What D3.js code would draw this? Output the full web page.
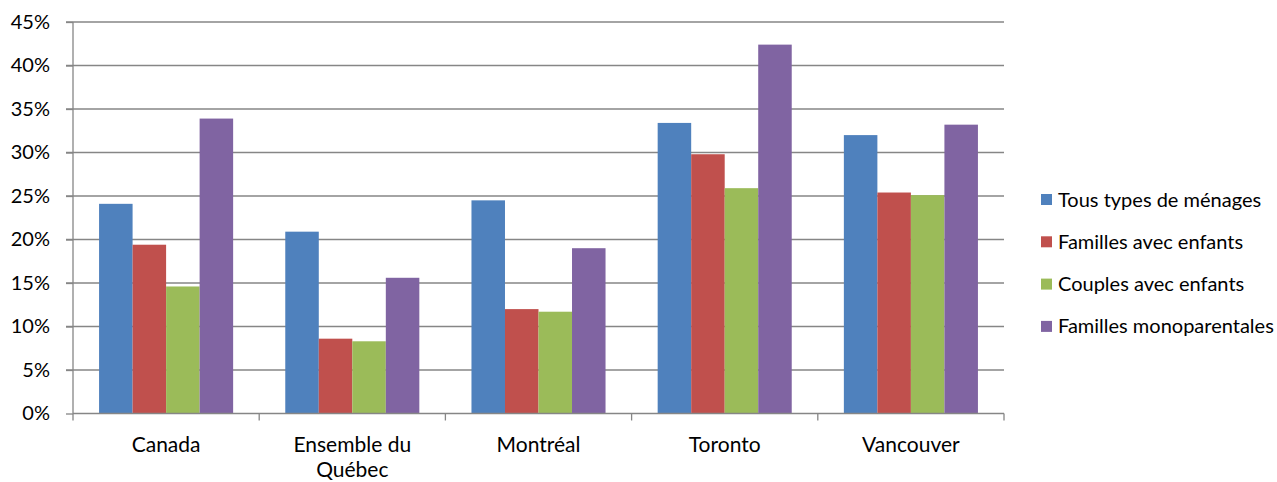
<!DOCTYPE html>
<html>
<head>
<meta charset="utf-8">
<script src="https://cdn.jsdelivr.net/npm/d3@7"></script>
<style>
  body { margin: 0; background: #fff; }
  text { font-family: Lato, "Open Sans", sans-serif; fill: #000; }
</style>
</head>
<body>
<div id="chart"></div>
<script>
// Data
var categories = ["Canada", "Ensemble du Québec", "Montréal", "Toronto", "Vancouver"];
var seriesNames = ["Tous types de ménages", "Familles avec enfants", "Couples avec enfants", "Familles monoparentales"];
var tousTypes = [24.1, 20.9, 24.5, 33.4, 32.0];
var famillesEnfants = [19.4, 8.6, 12.0, 29.8, 25.4];
var couplesEnfants = [14.6, 8.3, 11.7, 25.9, 25.1];
var monoparentales = [33.9, 15.6, 19.0, 42.4, 33.2];
var yTicks = [0, 5, 10, 15, 20, 25, 30, 35, 40, 45];
var colors = ["#4F81BD", "#C0504D", "#9BBB59", "#8064A2"];

var allSeries = [tousTypes, famillesEnfants, couplesEnfants, monoparentales];

var fontSize = "20px";
var svgWidth = 1277, svgHeight = 482;
var margin = { top: 22, right: 273, bottom: 68.5, left: 73 };
var chartWidth = svgWidth - margin.left - margin.right;
var chartHeight = svgHeight - margin.top - margin.bottom;

var svg = d3.select("#chart").append("svg")
  .attr("width", svgWidth)
  .attr("height", svgHeight);

var chartGroup = svg.append("g")
  .attr("transform", `translate(${margin.left}, ${margin.top})`);

// scales
var x0 = d3.scaleBand()
  .domain(categories)
  .range([0, chartWidth])
  .paddingInner(0.28)
  .paddingOuter(0.14);

var x1 = d3.scaleBand()
  .domain(d3.range(seriesNames.length))
  .range([0, x0.bandwidth()]);

var y = d3.scaleLinear()
  .domain([0, 45])
  .range([chartHeight, 0]);

// gridlines
chartGroup.append("g")
  .selectAll("line")
  .data(yTicks.slice(1))
  .enter()
  .append("line")
  .attr("x1", -7)
  .attr("x2", chartWidth)
  .attr("y1", d => y(d))
  .attr("y2", d => y(d))
  .attr("stroke", "#868686")
  .attr("stroke-width", 1.3);

// y axis
var leftAxis = d3.axisLeft(y)
  .tickValues(yTicks)
  .tickFormat(d => d + "%")
  .tickSize(7)
  .tickPadding(16);

var yAxisG = chartGroup.append("g").call(leftAxis);
yAxisG.select(".domain").attr("stroke", "#868686").attr("stroke-width", 1.3).attr("d", `M0,${chartHeight}V0`);
yAxisG.selectAll(".tick line").attr("stroke", "#868686").attr("stroke-width", 1.3);
yAxisG.selectAll(".tick text")
  .style("font-size", fontSize)
  .style("font-family", "Lato, 'Open Sans', sans-serif")
  .attr("fill", "#000");

// bars
var groups = chartGroup.append("g")
  .selectAll("g")
  .data(categories)
  .enter()
  .append("g")
  .attr("transform", d => `translate(${x0(d)}, 0)`);

groups.selectAll("rect")
  .data((d, i) => allSeries.map((s, j) => ({ series: j, value: s[i] })))
  .enter()
  .append("rect")
  .attr("x", d => x1(d.series))
  .attr("width", x1.bandwidth())
  .attr("y", d => y(d.value))
  .attr("height", d => chartHeight - y(d.value))
  .attr("fill", d => colors[d.series]);

// x axis: tick marks between categories
var xAxisG = chartGroup.append("g")
  .attr("transform", `translate(0, ${chartHeight})`);

xAxisG.append("line")
  .attr("x1", 0)
  .attr("x2", chartWidth)
  .attr("stroke", "#868686")
  .attr("stroke-width", 1.3);

xAxisG.selectAll(".sep")
  .data(d3.range(categories.length + 1))
  .enter()
  .append("line")
  .attr("class", "sep")
  .attr("x1", i => i * x0.step())
  .attr("x2", i => i * x0.step())
  .attr("y1", 0)
  .attr("y2", 7)
  .attr("stroke", "#868686")
  .attr("stroke-width", 1.3);

var catLabels = xAxisG.selectAll(".cat")
  .data(categories)
  .enter()
  .append("text")
  .attr("class", "cat")
  .attr("text-anchor", "middle")
  .attr("x", d => x0(d) + x0.bandwidth() / 2)
  .attr("y", 38)
  .style("font-size", "21px");

// wrap long labels like Excel does
catLabels.each(function(d) {
  var words = d.split(" ");
  var lines = [];
  var line = "";
  words.forEach(function(w) {
    var test = line ? line + " " + w : w;
    if (test.length > 12 && line) {
      lines.push(line);
      line = w;
    } else {
      line = test;
    }
  });
  lines.push(line);
  var el = d3.select(this);
  lines.forEach(function(l, k) {
    el.append("tspan")
      .attr("x", x0(d) + x0.bandwidth() / 2)
      .attr("dy", k === 0 ? 0 : 25)
      .text(l);
  });
});

// legend
var legend = svg.append("g")
  .attr("transform", "translate(1041, 200)");

var legendItems = legend.selectAll("g")
  .data(seriesNames)
  .enter()
  .append("g")
  .attr("transform", (d, i) => `translate(0, ${i * 42.3})`);

legendItems.append("rect")
  .attr("x", 0)
  .attr("y", -6)
  .attr("width", 11)
  .attr("height", 11)
  .attr("fill", (d, i) => colors[i]);

legendItems.append("text")
  .attr("x", 17)
  .attr("y", 6.5)
  .style("font-size", fontSize)
  .text(d => d);
</script>
</body>
</html>
